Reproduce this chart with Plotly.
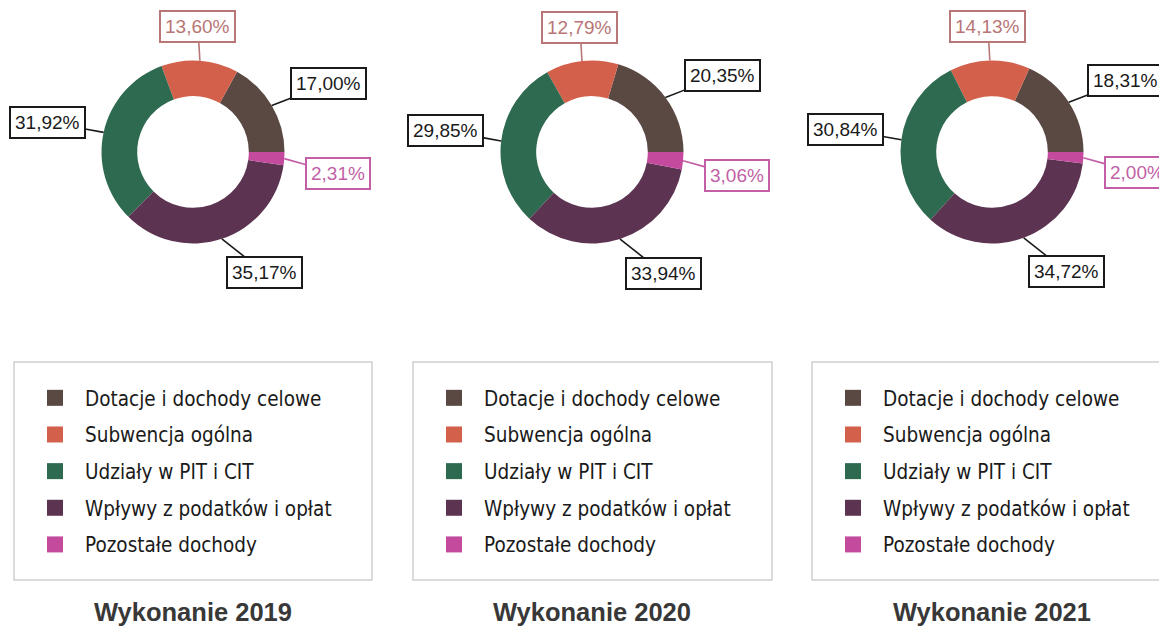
import math
import plotly.graph_objects as go

W, H = 1159, 629

categories = ["Dotacje i dochody celowe", "Subwencja ogólna", "Udziały w PIT i CIT",
              "Wpływy z podatków i opłat", "Pozostałe dochody"]
years = ["2019", "2020", "2021"]
values_2019 = [17.00, 13.60, 31.92, 35.17, 2.31]
values_2020 = [20.35, 12.79, 29.85, 33.94, 3.06]
values_2021 = [18.31, 14.13, 30.84, 34.72, 2.00]
series = [values_2019, values_2020, values_2021]

slice_colors = ["#5a4843", "#d3604b", "#2d6a4f", "#5c3452", "#c34a9d"]
label_colors = ["#1a1a1a", "#b87676", "#1a1a1a", "#1a1a1a", "#c25fa6"]

# layout (pixels)
centers_x = [193, 592, 992]
center_y = 152
R = 91.5
HOLE = 0.61
# offset of each label box from its leader-line tip, per category (px, y down)
label_offsets = [(57, -22), (-2, -34), (-56, -10), (43, 34), (54, 15)]
legend_boxes = [(14, 362, 372, 580), (413, 362, 772, 580), (812, 362, 1175, 580)]
title_y = 612

fig = go.Figure()
annotations = []
shapes = []

for i, (yr, vals) in enumerate(zip(years, series)):
    cx = centers_x[i]
    total = sum(vals)
    fig.add_trace(go.Pie(
        labels=categories, values=vals, sort=False, direction="counterclockwise",
        rotation=90 - 360 * vals[0] / total, hole=HOLE, textinfo="none",
        hoverinfo="label+percent",
        marker=dict(colors=slice_colors, line=dict(width=0)),
        showlegend=False,
        domain=dict(x=[(cx - R) / W, (cx + R) / W],
                    y=[1 - (center_y + R) / H, 1 - (center_y - R) / H]),
    ))
    # labels
    cum = 0.0
    for j, v in enumerate(vals):
        th = 2 * math.pi * (cum + v / 2) / total
        cum += v
        tx = cx + R * math.cos(th)
        ty = center_y - R * math.sin(th)
        ox, oy = label_offsets[j]
        annotations.append(dict(
            x=tx / W, y=1 - ty / H, xref="paper", yref="paper",
            ax=ox, ay=oy, axref="pixel", ayref="pixel",
            text=f"{v:.2f}%".replace(".", ","), showarrow=True, arrowhead=0,
            arrowwidth=1.6, arrowcolor=label_colors[j], standoff=0, startstandoff=0,
            bordercolor=label_colors[j], borderwidth=2, borderpad=4, bgcolor="white",
            font=dict(family="Liberation Sans, Arial", size=19, color=label_colors[j]),
        ))
    # legend entries
    lname = "legend" if i == 0 else f"legend{i + 1}"
    for j, c in enumerate(categories):
        fig.add_trace(go.Scatter(
            x=[None], y=[None], mode="markers", name=c,
            marker=dict(symbol="square", size=17, color=slice_colors[j]),
            legend=lname, legendgroup=f"{yr}_{j}", showlegend=True, hoverinfo="skip",
        ))
    x0, y0, x1, y1 = legend_boxes[i]
    shapes.append(dict(type="rect", xref="paper", yref="paper",
                       x0=x0 / W, x1=x1 / W, y0=1 - y1 / H, y1=1 - y0 / H,
                       line=dict(color="#cfcfcf", width=1.5), fillcolor="rgba(0,0,0,0)"))
    annotations.append(dict(
        x=cx / W, y=1 - title_y / H, xref="paper", yref="paper", showarrow=False,
        text=f"<b>Wykonanie {yr}</b>", xanchor="center", yanchor="middle",
        font=dict(family="Liberation Sans, Arial", size=25.5, color="#383838"),
    ))

legend_common = dict(
    xanchor="left", yanchor="top", bgcolor="rgba(0,0,0,0)", borderwidth=0,
    font=dict(family="DejaVu Sans Condensed, DejaVu Sans", size=20.5, color="#1a1a1a"),
    tracegroupgap=7, itemwidth=50, orientation="v",
)
layout_legends = {}
for i in range(3):
    lname = "legend" if i == 0 else f"legend{i + 1}"
    x0, y0, x1, y1 = legend_boxes[i]
    layout_legends[lname] = dict(legend_common, x=(x0 + 11) / W, y=1 - (y0 + 16) / H)

fig.update_layout(
    width=W, height=H, margin=dict(l=0, r=0, t=0, b=0, autoexpand=False),
    paper_bgcolor="white", plot_bgcolor="white",
    xaxis=dict(visible=False), yaxis=dict(visible=False),
    annotations=annotations, shapes=shapes,
    **layout_legends,
)

fig.write_html("out.html", config={"displayModeBar": False},
               post_script="document.body.style.margin='0px';document.body.style.overflow='hidden';")
